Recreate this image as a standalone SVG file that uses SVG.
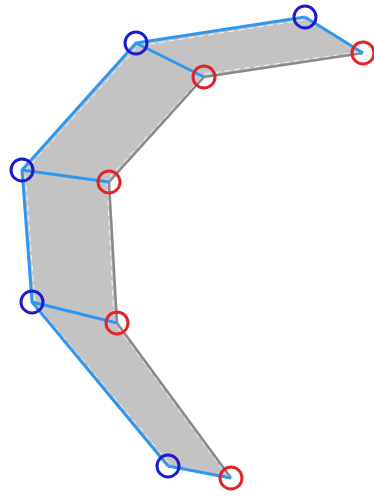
<svg xmlns="http://www.w3.org/2000/svg" width="374" height="497" viewBox="0 0 374 497">
<style>
.fill{fill:#c3c3c3;stroke:none}
.outer{fill:none;stroke:#2f97ef;stroke-width:3;stroke-linejoin:round}
.inner{fill:none;stroke:#8a8a8a;stroke-width:2.5;stroke-linejoin:round}
.rung{stroke:#2f97ef;stroke-width:3}
.dash{fill:none;stroke:#ffffff;stroke-width:1;stroke-dasharray:6 4;opacity:0.8}
.b{fill:none;stroke:#1c1ccc;stroke-width:3}
.r{fill:none;stroke:#e3232a;stroke-width:3}
</style>
<rect width="374" height="497" fill="#ffffff"/>
<polygon class="fill" points="305,17 136,43 22,170 32,302 168,466 231,478 117,323 109,182 204,77 363,53"/>
<g id="connectors">
<polyline class="dash" points="303,20 138,46 25,171 35,303 169,463"/>
<polyline class="dash" points="359,52 205,74 107,180 114,322 228,477"/>
<polyline class="inner" points="363,53 204,77 109,182 117,323 231,478"/>
<polyline class="outer" points="305,17 136,43 22,170 32,302 168,466"/>
<line class="rung" x1="305" y1="17" x2="363" y2="53"/>
<line class="rung" x1="136" y1="43" x2="204" y2="77"/>
<line class="rung" x1="22" y1="170" x2="109" y2="182"/>
<line class="rung" x1="32" y1="302" x2="117" y2="323"/>
<line class="rung" x1="168" y1="466" x2="231" y2="478"/>
</g>
<g id="b1"><circle class="b" cx="305" cy="17" r="11"/></g>
<g id="b2"><circle class="b" cx="136" cy="43" r="11"/></g>
<g id="b3"><circle class="b" cx="22" cy="170" r="11"/></g>
<g id="b4"><circle class="b" cx="32" cy="302" r="11"/></g>
<g id="b5"><circle class="b" cx="168" cy="466" r="11"/></g>
<g id="r1"><circle class="r" cx="363" cy="53" r="11"/></g>
<g id="r2"><circle class="r" cx="204" cy="77" r="11"/></g>
<g id="r3"><circle class="r" cx="109" cy="182" r="11"/></g>
<g id="r4"><circle class="r" cx="117" cy="323" r="11"/></g>
<g id="r5"><circle class="r" cx="231" cy="478" r="11"/></g>
</svg>
